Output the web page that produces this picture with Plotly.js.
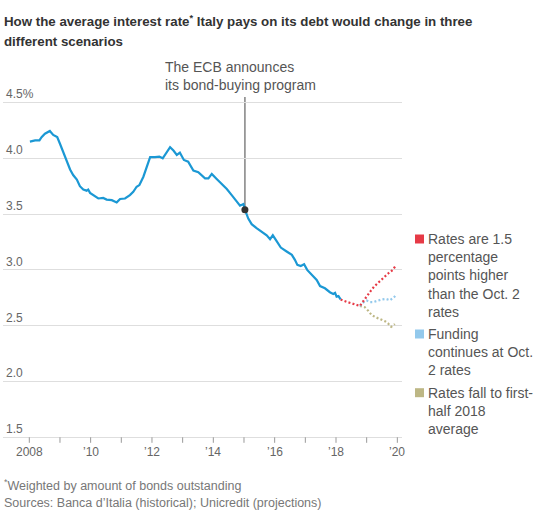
<!DOCTYPE html>
<html>
<head>
<meta charset="utf-8">
<script src="https://cdn.plot.ly/plotly-3.0.1.min.js"></script>
<style>
  html, body { margin: 0; padding: 0; background: #fff; }
  #chart { width: 549px; height: 514px; }
</style>
</head>
<body>
<div id="chart"></div>
<script>
// ---------- DATA ----------
const histYears = [2008.02, 2008.19, 2008.33, 2008.40, 2008.51, 2008.67, 2008.78, 2008.91, 2009.00, 2009.11,
  2009.22, 2009.33, 2009.43, 2009.55, 2009.65, 2009.76, 2009.87, 2009.92, 2009.98, 2010.09,
  2010.25, 2010.41, 2010.52, 2010.69, 2010.85, 2010.96, 2011.12, 2011.28, 2011.39, 2011.50,
  2011.59, 2011.72, 2011.83, 2011.94, 2012.10, 2012.24, 2012.35, 2012.48, 2012.59, 2012.70,
  2012.81, 2012.91, 2013.04, 2013.18, 2013.35, 2013.51, 2013.62, 2013.73, 2013.84, 2013.95,
  2014.11, 2014.27, 2014.44, 2014.60, 2014.76, 2014.87, 2014.98, 2015.03, 2015.14, 2015.25,
  2015.41, 2015.58, 2015.74, 2015.85, 2015.94, 2016.07, 2016.20, 2016.39, 2016.56, 2016.66,
  2016.74, 2016.85, 2016.96, 2017.06, 2017.21, 2017.37, 2017.48, 2017.64, 2017.80, 2017.91,
  2017.97, 2018.02, 2018.08, 2018.15];
const histRate = [4.15, 4.16, 4.16, 4.19, 4.22, 4.245, 4.21, 4.19, 4.13, 4.05,
  3.97, 3.90, 3.85, 3.81, 3.75, 3.72, 3.71, 3.72, 3.69, 3.67,
  3.64, 3.645, 3.63, 3.625, 3.605, 3.635, 3.64, 3.67, 3.70, 3.745,
  3.76, 3.835, 3.925, 4.01, 4.01, 4.015, 4.00, 4.06, 4.10, 4.07,
  4.03, 4.05, 3.985, 3.97, 3.89, 3.875, 3.85, 3.82, 3.82, 3.86,
  3.815, 3.775, 3.725, 3.67, 3.615, 3.575, 3.59, 3.54, 3.46, 3.41,
  3.375, 3.34, 3.31, 3.275, 3.31, 3.255, 3.20, 3.165, 3.135, 3.09,
  3.045, 3.035, 3.05, 3.00, 2.96, 2.91, 2.855, 2.835, 2.80, 2.785,
  2.795, 2.76, 2.765, 2.735];

// Scenario: rates 1.5 points higher (includes shared segment)
const highYears = [2018.15, 2018.24, 2018.37, 2018.51, 2018.65, 2018.78, 2018.87, 2018.97, 2019.06, 2019.14,
  2019.24, 2019.36, 2019.47, 2019.60, 2019.71, 2019.85, 2019.95];
const highRate = [2.735, 2.724, 2.712, 2.70, 2.685, 2.677, 2.712, 2.754, 2.784, 2.814,
  2.85, 2.88, 2.916, 2.945, 2.97, 3.00, 3.04];

// Scenario: funding continues at Oct. 2 rates
const flatYears = [2018.78, 2018.90, 2019.00, 2019.11, 2019.22, 2019.35, 2019.49, 2019.63, 2019.76, 2019.89, 2019.98];
const flatRate = [2.677, 2.71, 2.725, 2.712, 2.712, 2.725, 2.735, 2.74, 2.728, 2.755, 2.78];

// Scenario: rates fall to first-half 2018 average
const lowYears = [2018.78, 2018.94, 2019.05, 2019.16, 2019.30, 2019.46, 2019.60, 2019.70, 2019.80, 2019.92];
const lowRate = [2.677, 2.665, 2.634, 2.596, 2.575, 2.56, 2.54, 2.52, 2.49, 2.515];

const scenarioNames = [
  'Rates are 1.5<br>percentage<br>points higher<br>than the Oct. 2<br>rates',
  'Funding<br>continues at Oct.<br>2 rates',
  'Rates fall to first-<br>half 2018<br>average'
];
const scenarioColors = ['#e63a46', '#93c9ec', '#bdb785'];

const ecbYear = 2015.03;
const ecbRate = 3.54;
const ecbLabel = 'The ECB announces<br>its bond-buying program';

const xTickVals = [2008, 2009, 2010, 2011, 2012, 2013, 2014, 2015, 2016, 2017, 2018, 2019, 2020];
const xTickText = ['2008', '', '\u201910', '', '\u201912', '', '\u201914', '', '\u201916', '', '\u201918', '', '\u201920'];
const yTickVals = [1.5, 2, 2.5, 3, 3.5, 4, 4.5];
const yTickText = ['1.5', '2.0', '2.5', '3.0', '3.5', '4.0', '4.5%'];

const titleLine1 = '<b>How the average interest rate<sup>*</sup> Italy pays on its debt would change in three</b>';
const titleLine2 = '<b>different scenarios</b>';
const footNote = '<sup>*</sup>Weighted by amount of bonds outstanding';
const sourceNote = 'Sources: Banca d\u2019Italia (historical); Unicredit (projections)';

// ---------- LAYOUT HELPERS ----------
const W = 549, H = 514;
const M = { l: 3, r: 147, t: 85, b: 75 };
const PW = W - M.l - M.r, PH = H - M.t - M.b;
const px2x = px => (px - M.l) / PW;           // pixel -> paper x
const py2y = py => (H - M.b - py) / PH;       // pixel -> paper y
const yMin = 1.5, yMax = 4.5;
const gridTopPx = 102.5, gridBotPx = 437.3;   // pixel rows of the 4.5 and 1.5 gridlines
const pxPerUnit = (gridBotPx - gridTopPx) / (yMax - yMin);
const yRange = [yMin - (H - M.b - gridBotPx) / pxPerUnit, yMax + (gridTopPx - M.t) / pxPerUnit];

const FONT = '"Liberation Sans", Arial, sans-serif';

const dotted = '2px,2.2px';
const traces = [
  { x: lowYears, y: lowRate, type: 'scatter', mode: 'lines',
    line: { color: scenarioColors[2], width: 2.2, dash: dotted }, hoverinfo: 'skip' },
  { x: flatYears, y: flatRate, type: 'scatter', mode: 'lines',
    line: { color: scenarioColors[1], width: 2.2, dash: dotted }, hoverinfo: 'skip' },
  { x: highYears, y: highRate, type: 'scatter', mode: 'lines',
    line: { color: scenarioColors[0], width: 2.2, dash: dotted }, hoverinfo: 'skip' },
  { x: histYears, y: histRate, type: 'scatter', mode: 'lines',
    line: { color: '#1b98d4', width: 2.2 }, hoverinfo: 'skip' },
  { x: [ecbYear], y: [ecbRate], type: 'scatter', mode: 'markers',
    marker: { color: '#333', size: 7 }, hoverinfo: 'skip' }
];

const legendTops = [239, 334, 392.7];   // pixel centre of first line
const lineH = 18.2;
const annotations = [];
const shapes = [];
scenarioNames.forEach((name, i) => {
  const nLines = name.split('<br>').length;
  const centre = legendTops[i] + (nLines - 1) * lineH / 2;
  annotations.push({ xref: 'paper', yref: 'paper', x: px2x(426), y: py2y(centre),
    xanchor: 'left', yanchor: 'middle', align: 'left', showarrow: false, text: name,
    font: { family: FONT, size: 14, color: '#555' } });
  shapes.push({ type: 'rect', xref: 'paper', yref: 'paper',
    x0: px2x(415), x1: px2x(424), y0: py2y(legendTops[i] - 4.5), y1: py2y(legendTops[i] + 4.5),
    fillcolor: scenarioColors[i], line: { width: 0 } });
});

// x-axis tick marks and labels
xTickVals.forEach((v, i) => {
  shapes.push({ type: 'line', xref: 'x', yref: 'paper', x0: v, x1: v,
    y0: py2y(gridBotPx), y1: py2y(gridBotPx + 5.5), line: { color: '#999', width: 1 } });
  if (xTickText[i]) {
    annotations.push({ xref: 'x', yref: 'paper', x: v, y: py2y(452), xanchor: 'center', yanchor: 'middle',
      showarrow: false, text: xTickText[i], font: { family: FONT, size: 12, color: '#666' } });
  }
});

annotations.push({ xref: 'paper', yref: 'paper', x: px2x(2), y: py2y(41), xanchor: 'left', yanchor: 'middle',
  align: 'left', showarrow: false, text: titleLine2, font: { family: FONT, size: 13.3, color: '#333' } });
annotations.push({ xref: 'paper', yref: 'paper', x: px2x(163), y: py2y(76), xanchor: 'left', yanchor: 'middle',
  align: 'left', showarrow: false, text: ecbLabel, font: { family: FONT, size: 14, color: '#555' } });
annotations.push({ xref: 'paper', yref: 'paper', x: px2x(2), y: py2y(485), xanchor: 'left', yanchor: 'middle',
  align: 'left', showarrow: false, text: footNote, font: { family: FONT, size: 12.5, color: '#777' } });
annotations.push({ xref: 'paper', yref: 'paper', x: px2x(2), y: py2y(503), xanchor: 'left', yanchor: 'middle',
  align: 'left', showarrow: false, text: sourceNote, font: { family: FONT, size: 12.5, color: '#777' } });

shapes.push({ type: 'line', xref: 'x', yref: 'y', x0: ecbYear, x1: ecbYear, y0: ecbRate,
  y1: yMax + (gridTopPx - 97) / pxPerUnit,
  line: { color: '#8a8a8a', width: 1.6 }, layer: 'below' });

const layout = {
  width: W, height: H,
  margin: M,
  paper_bgcolor: '#fff', plot_bgcolor: '#fff',
  showlegend: false,
  title: { text: titleLine1, xref: 'container', yref: 'container', x: 4 / W, xanchor: 'left',
    y: 1 - 21.5 / H, yanchor: 'middle', font: { family: FONT, size: 13.3, color: '#333' } },
  xaxis: {
    range: [2008 - 26.3 / 30.67, 2008 + 372.7 / 30.67],
    tickvals: xTickVals, ticks: '', showticklabels: false,
    showgrid: false, zeroline: false, showline: false, fixedrange: true
  },
  yaxis: {
    range: yRange,
    tickvals: yTickVals, ticktext: yTickText,
    ticklabelposition: 'inside top', ticks: '',
    showgrid: true, gridcolor: '#dedede', gridwidth: 1,
    zeroline: false, showline: false,
    tickfont: { family: FONT, size: 12, color: '#666' }, fixedrange: true
  },
  annotations: annotations,
  shapes: shapes
};

Plotly.newPlot('chart', traces, layout, { displayModeBar: false, staticPlot: true });
</script>
</body>
</html>
